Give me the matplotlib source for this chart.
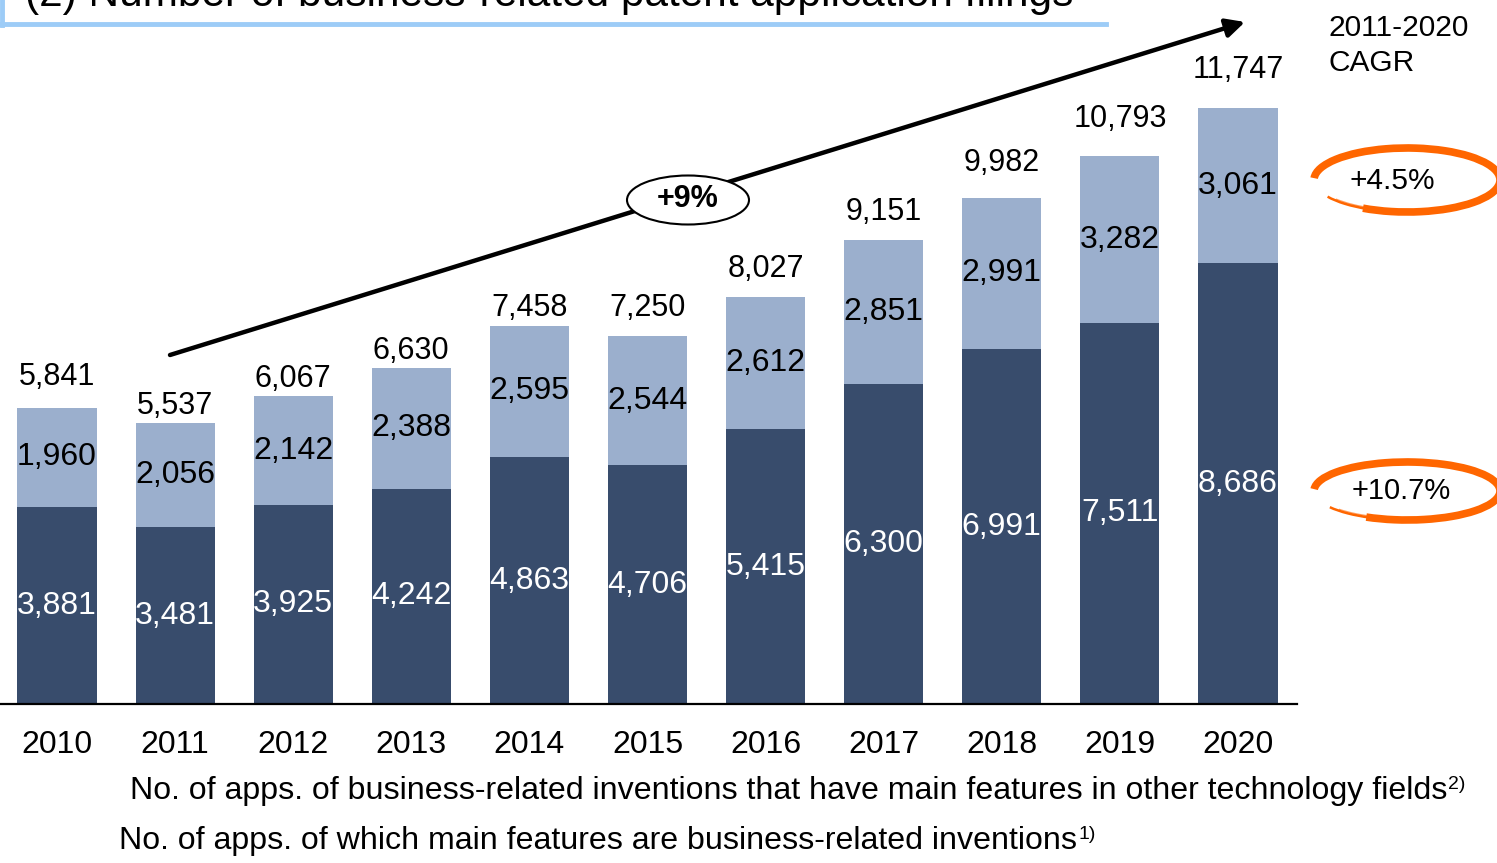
import matplotlib
matplotlib.use('Agg')
import matplotlib.pyplot as plt
from matplotlib.patches import Ellipse, Arc
from matplotlib.lines import Line2D

plt.rcParams['font.family'] = ['Liberation Sans', 'DejaVu Sans']

# ---------------- data ----------------
years = ['2010', '2011', '2012', '2013', '2014', '2015', '2016', '2017', '2018', '2019', '2020']
main_features = [3881, 3481, 3925, 4242, 4863, 4706, 5415, 6300, 6991, 7511, 8686]
other_fields = [1960, 2056, 2142, 2388, 2595, 2544, 2612, 2851, 2991, 3282, 3061]
totals = [5841, 5537, 6067, 6630, 7458, 7250, 8027, 9151, 9982, 10793, 11747]

title = '(2) Number of business-related patent application filings'
legend_other = 'No. of apps. of business-related inventions that have main features in other technology fields'
legend_main = 'No. of apps. of which main features are business-related inventions'
cagr_total = '+9%'
cagr_other = '+4.5%'
cagr_main = '+10.7%'

# ---------------- style / layout ----------------
W, H = 1497, 863
DARK = '#384C6C'
LIGHT = '#9BAFCD'
ORANGE = '#FF6600'
BOXBLUE = '#9DCCF7'
total_label_gap_px = [31, 17, 17, 17, 18, 28, 28, 28, 35, 37, 38]


def fx(x):
    return x / W


def fy(y):
    return 1 - y / H


fig = plt.figure(figsize=(W / 100, H / 100), dpi=100)

px_per_unit = (704 - 108) / 11747
ax = fig.add_axes([0, fy(704), 1297 / W, 704 / H])
ax.set_xlim(-57 / 118.1, (1297 - 57) / 118.1)
ax.set_ylim(0, 704 / px_per_unit)
for s in ['top', 'right', 'left']:
    ax.spines[s].set_visible(False)
ax.spines['bottom'].set_linewidth(1.6)
ax.spines['bottom'].set_color('black')
ax.set_yticks([])

x = list(range(len(years)))
bw = 0.67
ax.bar(x, main_features, width=bw, color=DARK, zorder=2)
ax.bar(x, other_fields, width=bw, bottom=main_features, color=LIGHT, zorder=2)

ax.set_xticks(x)
ax.set_xticklabels(years, fontsize=23)
ax.tick_params(axis='x', length=0, pad=18.5)

for i in x:
    ax.text(i, main_features[i] / 2, f'{main_features[i]:,}', ha='center', va='center',
            fontsize=23, color='white', zorder=3)
    ax.text(i, main_features[i] + other_fields[i] / 2, f'{other_fields[i]:,}', ha='center',
            va='center', fontsize=23, color='black', zorder=3)
    ax.annotate(f'{totals[i]:,}', xy=(i, totals[i]), xytext=(0, total_label_gap_px[i] * 0.72),
                textcoords='offset points', ha='center', va='center', fontsize=22, color='black')

# trend arrow
ax.annotate('', xy=((1245 - 57) / 118.1, (704 - 22) / px_per_unit),
            xytext=((170 - 57) / 118.1, (704 - 355) / px_per_unit),
            arrowprops=dict(arrowstyle='-|>', color='black', lw=3.2, mutation_scale=28,
                            shrinkA=0, shrinkB=0), annotation_clip=False, zorder=4)

# +9% ellipse
fig.patches.append(Ellipse((fx(688), fy(200)), 122 / W, 49 / H, transform=fig.transFigure,
                           facecolor='white', edgecolor='black', lw=1.5, zorder=5))
fig.text(fx(688), fy(199), cagr_total, ha='center', va='center', fontsize=22,
         fontweight='bold', zorder=6)

# CAGR header
fig.text(fx(1328), fy(14), '2011-2020\nCAGR', ha='left', va='top', fontsize=21.5,
         linespacing=1.3)


def brush_ellipse(cx, cy, w, h):
    fig.patches.append(Arc((fx(cx), fy(cy)), w / W, h / H, theta1=228, theta2=538,
                           transform=fig.transFigure, color=ORANGE, lw=5.5, zorder=5))
    fig.patches.append(Arc((fx(cx), fy(cy)), w / W, h / H, theta1=200, theta2=232,
                           transform=fig.transFigure, color=ORANGE, lw=1.8, zorder=5))
    fig.patches.append(Arc((fx(cx), fy(cy)), (w - 4) / W, (h - 3) / H, theta1=205, theta2=235,
                           transform=fig.transFigure, color=ORANGE, lw=1.0, alpha=0.6, zorder=5))


brush_ellipse(1407, 180, 186, 64)
fig.text(fx(1392), fy(181), cagr_other, ha='center', va='center', fontsize=21.5)
brush_ellipse(1407, 491, 186, 58)
fig.text(fx(1401), fy(491), cagr_main, ha='center', va='center', fontsize=21)

# title (cut off at top) with light-blue frame
fig.text(fx(25), fy(6), title, ha='left', va='baseline', fontsize=30.5)
fig.add_artist(Line2D([fx(2), fx(2)], [fy(0), fy(25)], color=BOXBLUE, lw=3.5,
                      transform=fig.transFigure))
fig.add_artist(Line2D([fx(0), fx(1106)], [fy(24), fy(24)], color=BOXBLUE, lw=3.5,
                      transform=fig.transFigure))

# legend texts with superscripts
t1 = fig.text(fx(130), fy(799), legend_other, ha='left', va='baseline', fontsize=23.1)
t2 = fig.text(fx(119), fy(849), legend_main, ha='left', va='baseline', fontsize=23.1)
fig.canvas.draw()
r = fig.canvas.get_renderer()
for t, sup in [(t1, '2)'), (t2, '1)')]:
    bb = t.get_window_extent(renderer=r)
    fig.text(bb.x1 / W + 1 / W, t.get_position()[1] + 10 / H, sup, ha='left', va='baseline',
             fontsize=14)

fig.savefig('out.png', dpi=100)
